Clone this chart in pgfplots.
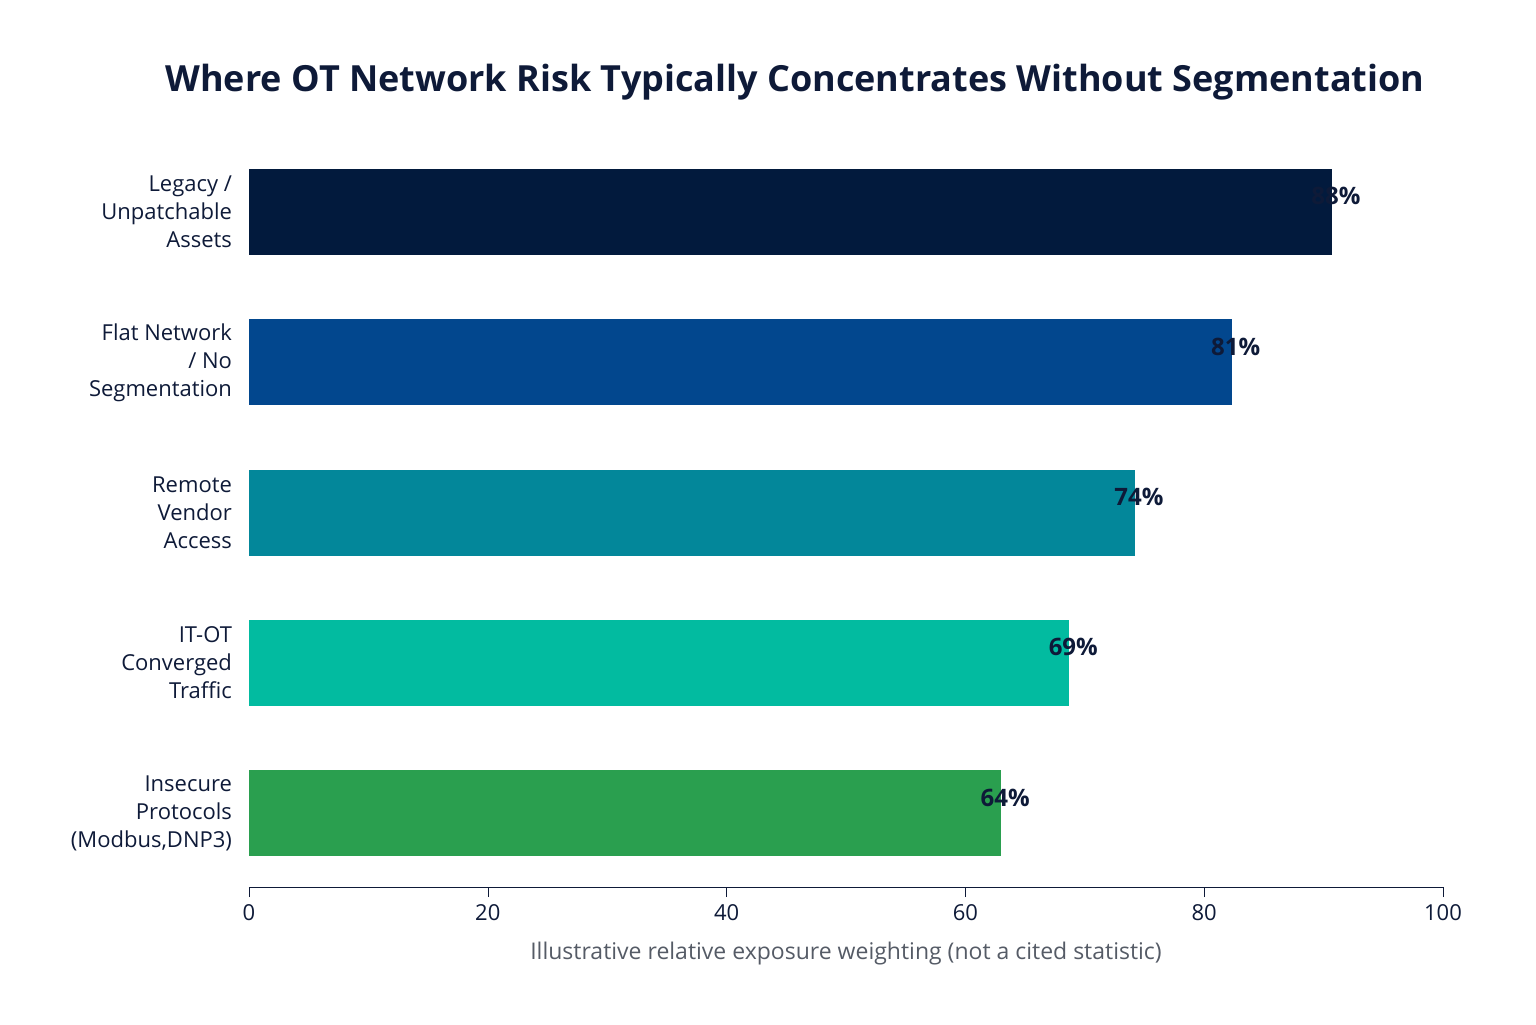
\documentclass[border=0pt]{standalone}
\usepackage{fontspec}
\setmainfont{Open Sans}
\usepackage{pgfplots}
\pgfplotsset{compat=1.18}
\definecolor{c1}{HTML}{021A3D}
\definecolor{c2}{HTML}{02478E}
\definecolor{c3}{HTML}{03879A}
\definecolor{c4}{HTML}{02BBA0}
\definecolor{c5}{HTML}{2A9F4F}
\definecolor{navy}{HTML}{0E1A38}
\definecolor{gr}{HTML}{555B66}
\begin{document}
\begin{tikzpicture}
\path (-124.5pt,-68.5pt) rectangle (643.5pt,443.5pt);
\begin{axis}[
  scale only axis, width=597pt, height=375pt,
  xbar, bar width=43pt, bar shift=0pt,
  xmin=0, xmax=100, ymin=-0.5, ymax=4.49, y dir=reverse,
  axis x line*=bottom, axis y line*=left,
  x axis line style={-, draw=navy},
  y axis line style={draw=none},
  xtick={0,20,...,100}, xtick style={draw=navy}, tick align=outside,
  major tick length=5pt,
  ytick={0,1,2,3,4}, ytick style={draw=none},
  yticklabels={{Legacy /\\Unpatchable\\Assets},{Flat Network\\/ No\\Segmentation},{Remote\\Vendor\\Access},{IT-OT\\Converged\\Traffic},{Insecure\\Protocols\\(Modbus,DNP3)}},
  yticklabel style={align=right, font=\fontsize{11}{14}\selectfont, text=navy},
  xticklabel style={font=\fontsize{11}{13}\selectfont, text=navy},
  /pgf/number format/assume math mode=true,
  xlabel={Illustrative relative exposure weighting (not a cited statistic)},
  xlabel style={font=\fontsize{11.5}{13}\selectfont, text=gr, yshift=-4pt},
  nodes near coords={\pgfmathprintnumber\pgfplotspointmeta\%},
  nodes near coords style={font=\bfseries\fontsize{12}{14}\selectfont, text=navy, xshift=2pt},
  point meta=explicit,
]
\addplot[fill=c1, draw=none] coordinates {(90.7,0) [88]};
\addplot[fill=c2, draw=none] coordinates {(82.3,1) [81]};
\addplot[fill=c3, draw=none] coordinates {(74.2,2) [74]};
\addplot[fill=c4, draw=none] coordinates {(68.7,3) [69]};
\addplot[fill=c5, draw=none] coordinates {(63,4) [64]};
\end{axis}
\node[font=\bfseries\fontsize{18}{22}\selectfont, text=navy] at (273pt,402.5pt) {Where OT Network Risk Typically Concentrates Without Segmentation};
\end{tikzpicture}
\end{document}
